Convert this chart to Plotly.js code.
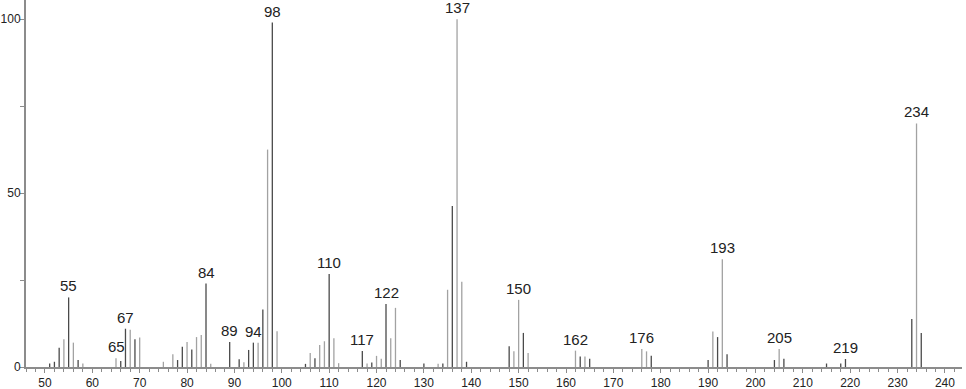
<!DOCTYPE html>
<html>
<head>
<meta charset="utf-8">
<script src="https://cdn.plot.ly/plotly-3.0.1.min.js"></script>
<style>html,body{margin:0;padding:0;background:#fff;}#chart{width:966px;height:389px;}</style>
</head>
<body>
<div id="chart"></div>
<script>
// m/z values and relative intensities
const mz = [51,52,53,54,55,56,57,58,65,66,67,68,69,70,75,77,78,79,80,81,82,83,84,85,89,91,92,93,94,95,96,97,98,99,
  105,106,107,108,109,110,111,112,117,118,119,120,121,122,123,124,125,130,133,134,135,136,137,138,139,
  148,149,150,151,152,162,163,164,165,176,177,178,190,191,192,193,194,204,205,206,215,218,219,233,234,235];
const intensity = [1,1.5,5.5,8,20,7,2,1,2.5,1.7,11,10.7,8,8.5,1.5,3.7,2,5.8,7.2,5,8.6,9.2,24,0.9,7.2,2.2,1.4,4.9,7,7,16.5,62.5,99,10.3,
  0.9,4,2.5,6.3,7.4,26.7,8.3,1.1,4.6,1,1.3,3.2,2.4,18.1,8.3,17,2,1,0.9,1,22.2,46.3,100,24.5,1.5,
  6,4.5,19.3,9.8,4,4.7,3,3,2.4,5.2,4.5,3.2,2,10.2,8.6,31,3.7,2,5.2,2.4,1,1,2.3,13.8,70,9.8];
// peaks drawn in the lighter grey
const lightPeaks = [54,56,58,65,68,70,75,77,80,82,83,85,92,95,97,99,106,108,109,111,112,118,120,121,123,124,
  133,135,137,138,149,150,152,162,164,176,177,191,193,205,234];
// labelled peaks
const labelled = [55,65,67,84,89,94,98,110,117,122,137,150,162,176,193,205,219,234];
const yTicks = [0,50,100];

const dark = '#4a4a4a', light = '#a2a2a2';

function stickTrace(isLight, color) {
  const xs = [], ys = [];
  mz.forEach((m, i) => {
    if (lightPeaks.includes(m) === isLight) {
      xs.push(m, m, null);
      ys.push(0, intensity[i], null);
    }
  });
  return {type: 'scatter', mode: 'lines', x: xs, y: ys,
    line: {color: color, width: 1.3}, hoverinfo: 'skip', connectgaps: false};
}

const xFont = {family: 'Liberation Sans, sans-serif', size: 12, color: '#222'};
const yFont = {family: 'Liberation Sans, sans-serif', size: 12, color: '#222'};
const annotations = labelled.map(m => ({
  x: m, y: intensity[mz.indexOf(m)], text: String(m), showarrow: false,
  yanchor: 'bottom', xanchor: 'center', yshift: 1,
  font: {family: 'Liberation Sans, sans-serif', size: 15, color: '#222'}
}));

const layout = {
  width: 966, height: 389,
  margin: {l: 26, r: 4, t: 0, b: 22, pad: 0},
  paper_bgcolor: '#fff', plot_bgcolor: '#fff',
  showlegend: false,
  font: xFont,
  xaxis: {
    range: [46, 243.6], showgrid: false, zeroline: false,
    showline: true, linecolor: '#8c8c8c', linewidth: 1.5,
    ticks: 'outside', ticklen: 4, tickcolor: '#8c8c8c', tickwidth: 1,
    tick0: 0, dtick: 10, tickfont: xFont, ticklabelstandoff: 0,
    minor: {dtick: 2, ticks: 'outside', ticklen: 3, tickcolor: '#8c8c8c', tickwidth: 1}
  },
  yaxis: {
    range: [0, 105.5], showgrid: false, zeroline: false,
    showline: true, linecolor: '#8c8c8c', linewidth: 2,
    ticks: 'outside', ticklen: 4, tickcolor: '#8c8c8c', tickwidth: 1,
    tickvals: yTicks, ticktext: yTicks.map(String), tickfont: yFont, ticklabelstandoff: -3,
    minor: {tickvals: [25, 75], ticks: 'outside', ticklen: 4, tickcolor: '#8c8c8c', tickwidth: 1}
  },
  annotations: annotations
};

Plotly.newPlot('chart', [stickTrace(false, dark), stickTrace(true, light)], layout,
  {displayModeBar: false, staticPlot: true});
</script>
</body>
</html>
